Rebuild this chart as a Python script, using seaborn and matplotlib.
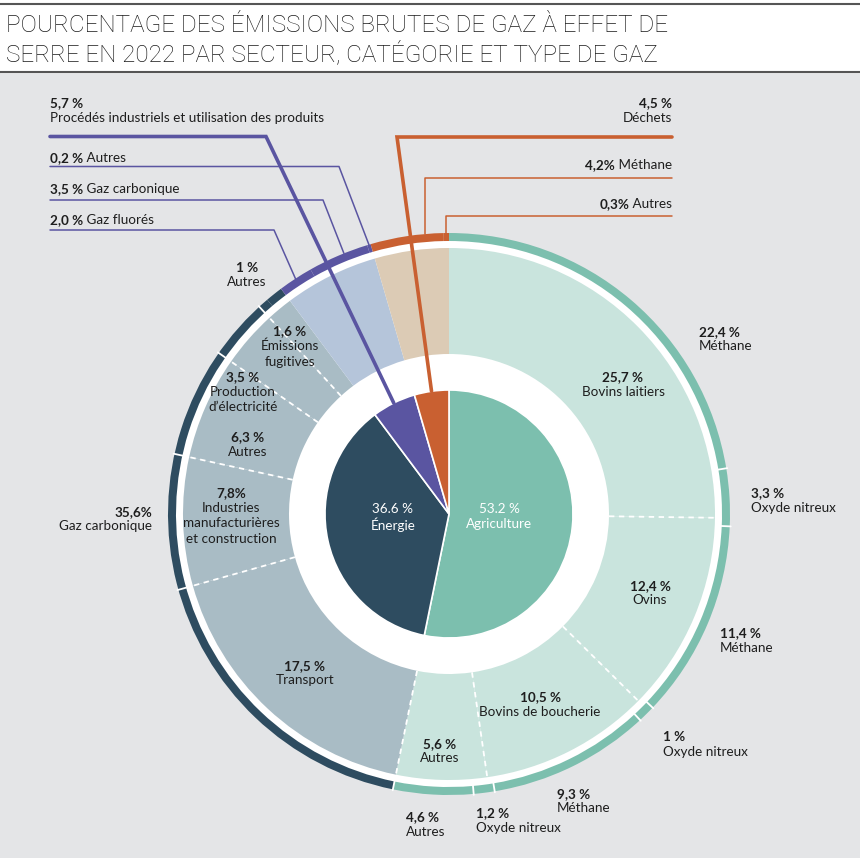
import numpy as np
import matplotlib
matplotlib.use("Agg")
import matplotlib.pyplot as plt
from matplotlib.patches import Circle, Rectangle
import seaborn as sns

# --- données ---------------------------------------------------------------
sector_names = ["Agriculture", "Énergie",
                "Procédés industriels et utilisation des produits", "Déchets"]
sector_pct = [53.2, 36.6, 5.7, 4.5]
sector_lbl = ["53.2 %", "36.6 %", "5,7 %", "4,5 %"]

agri_cats = ["Bovins laitiers", "Ovins", "Bovins de boucherie", "Autres"]
agri_cat_pct = [25.7, 12.4, 10.5, 5.6]
agri_cat_lbl = ["25,7 %", "12,4 %", "10,5 %", "5,6 %"]

energy_cats = ["Transport", "Industries\nmanufacturières\net construction", "Autres",
               "Production\nd’électricité", "Émissions\nfugitives"]
energy_cat_pct = [17.5, 7.8, 6.3, 3.5, 1.6]
energy_cat_lbl = ["17,5 %", "7,8%", "6,3 %", "3,5 %", "1,6 %"]

agri_gas = ["Méthane", "Oxyde nitreux", "Méthane", "Oxyde nitreux",
            "Méthane", "Oxyde nitreux", "Autres"]
agri_gas_pct = [22.4, 3.3, 11.4, 1.0, 9.3, 1.2, 4.6]
agri_gas_lbl = ["22,4 %", "3,3 %", "11,4 %", "1 %", "9,3 %", "1,2 %", "4,6 %"]

energy_gas = ["Gaz carbonique", "Autres"]
energy_gas_pct = [35.6, 1.0]
energy_gas_lbl = ["35,6%", "1 %"]

ippu_gas = ["Gaz fluorés", "Gaz carbonique", "Autres"]
ippu_gas_pct = [2.0, 3.5, 0.2]
ippu_gas_lbl = ["2,0 %", "3,5 %", "0,2 %"]

waste_gas = ["Méthane", "Autres"]
waste_gas_pct = [4.2, 0.3]
waste_gas_lbl = ["4,2%", "0,3%"]

# --- style -----------------------------------------------------------------
sns.set_style("white")
plt.rcParams["font.family"] = ["Lato", "DejaVu Sans"]

inner_colors = sns.color_palette(["#7cbfae", "#2e4c60", "#5a55a1", "#c96031"])
middle_colors = sns.color_palette(["#c9e4dd", "#a9bcc5", "#b5c5da", "#dccbb5"])
BG = "#e4e5e7"
TXT = "#1e1e1e"

W, H = 860, 858
fig = plt.figure(figsize=(W / 100, H / 100), dpi=100, facecolor=BG)
ax = fig.add_axes([0, 0, 1, 1])
ax.set_facecolor(BG)

CX, CY = 449, H - 514
R_IN, R_MID_IN, R_MID, R_OUT_IN, R_OUT = 124, 160, 266, 273, 281


def Y(y):
    return H - y


def polar(frac, r):
    th = np.deg2rad(90 - 360 * frac / 100)
    return CX + r * np.cos(th), CY + r * np.sin(th)


# bandeau du titre
ax.add_patch(Rectangle((0, Y(72)), W, 72, color="white", zorder=0))
ax.plot([0, W], [Y(4), Y(4)], color="#555555", lw=1.5, zorder=1)
ax.plot([0, W], [Y(72), Y(72)], color="#555555", lw=1.5, zorder=1)
for y, line in [(25, "POURCENTAGE DES ÉMISSIONS BRUTES DE GAZ À EFFET DE"),
                (54, "SERRE EN 2022 PAR SECTEUR, CATÉGORIE ET TYPE DE GAZ")]:
    ax.text(6, Y(y), line, fontsize=17.5, fontweight="light", color="#1a1a1a",
            va="center", family=["Roboto", "DejaVu Sans"])

# disque blanc sous les anneaux
ax.add_patch(Circle((CX, CY), R_OUT_IN + 1, color="white", zorder=1))

# anneau intérieur : secteurs
ax.pie(sector_pct, radius=R_IN, center=(CX, CY), startangle=90, counterclock=False,
       colors=inner_colors, wedgeprops=dict(linewidth=1.2, edgecolor="white", zorder=2))

# anneau du milieu : catégories (ramenées au total du secteur)
agri_mid = [v * sector_pct[0] / sum(agri_cat_pct) for v in agri_cat_pct]
energy_mid = [v * sector_pct[1] / sum(energy_cat_pct) for v in energy_cat_pct]
mid_sizes = agri_mid + energy_mid + [sector_pct[2], sector_pct[3]]
mid_cols = ([middle_colors[0]] * len(agri_mid) + [middle_colors[1]] * len(energy_mid)
            + [middle_colors[2], middle_colors[3]])
ax.pie(mid_sizes, radius=R_MID, center=(CX, CY), startangle=90, counterclock=False,
       colors=mid_cols, wedgeprops=dict(width=R_MID - R_MID_IN, linewidth=0, zorder=2))

# anneau extérieur : types de gaz
out_sizes = agri_gas_pct + energy_gas_pct + ippu_gas_pct + waste_gas_pct
out_cols = ([inner_colors[0]] * len(agri_gas_pct) + [inner_colors[1]] * len(energy_gas_pct)
            + [inner_colors[2]] * len(ippu_gas_pct) + [inner_colors[3]] * len(waste_gas_pct))
ax.pie(out_sizes, radius=R_OUT, center=(CX, CY), startangle=90, counterclock=False,
       colors=out_cols, wedgeprops=dict(width=R_OUT - R_OUT_IN, linewidth=0, zorder=2))

# séparateurs pointillés (catégories) et petits traits sur l'anneau extérieur
mid_bounds = list(np.cumsum(agri_mid)[:-1]) + [sector_pct[0]] + \
    list(sector_pct[0] + np.cumsum(energy_mid)[:-1])
for f in mid_bounds:
    (x0, y0), (x1, y1) = polar(f, R_MID_IN), polar(f, R_MID)
    ax.plot([x0, x1], [y0, y1], color="white", lw=1.3, ls=(0, (3, 2.5)), zorder=3)
out_bounds = list(np.cumsum(agri_gas_pct)[:-1]) + mid_bounds[len(agri_mid) - 1:]
for f in out_bounds:
    (x0, y0), (x1, y1) = polar(f, R_OUT_IN - 1), polar(f, R_OUT + 1)
    ax.plot([x0, x1], [y0, y1], color="white", lw=1.3, zorder=3)

# lignes de rappel
start_ippu = sector_pct[0] + sector_pct[1]
start_waste = start_ippu + sector_pct[2]
purple, orange = inner_colors[2], inner_colors[3]

px, py = polar(start_ippu + sector_pct[2] / 2, R_IN)
ax.plot([50, 266, px], [Y(136.5), Y(136.5), py], color=purple, lw=2.6, zorder=5,
        solid_joinstyle="miter")
ox, oy = polar(start_waste + sector_pct[3] / 2, R_IN)
ax.plot([672, 397, ox], [Y(137), Y(137), oy], color=orange, lw=2.6, zorder=5,
        solid_joinstyle="miter")

ippu_cum = np.concatenate([[0], np.cumsum(ippu_gas_pct)])
for i, (yl, xc, a) in enumerate([(230, 274, 0.5), (200, 323, 0.6), (166.5, 339, 0.5)]):
    f = start_ippu + ippu_cum[i] + a * ippu_gas_pct[i]
    x1, y1 = polar(f, R_OUT)
    ax.plot([50, xc, x1], [Y(yl), Y(yl), y1], color=purple, lw=1.1, zorder=5)

waste_cum = np.concatenate([[0], np.cumsum(waste_gas_pct)])
for i, (yl, a) in enumerate([(178, 0.75), (216, 0.5)]):
    f = start_waste + waste_cum[i] + a * waste_gas_pct[i]
    x1, y1 = polar(f, R_OUT)
    ax.plot([672, x1, x1], [Y(yl), Y(yl), y1], color=orange, lw=1.1, zorder=5)


# --- textes ----------------------------------------------------------------
FS = 9.7


def label(x, y, num, name, ha="center", color=TXT, bold=True):
    ax.text(x, Y(y), num, fontsize=FS, fontweight="bold" if bold else "normal",
            color=color, ha=ha, va="center", zorder=6)
    ax.text(x, Y(y + 8.5), name, fontsize=FS, color=color, ha=ha, va="top",
            linespacing=1.38, multialignment=ha, zorder=6)


def inline(x, y, num, name, ha="left"):
    if ha == "left":
        t = ax.text(x, Y(y), num, fontsize=FS, fontweight="bold", color=TXT,
                    ha="left", va="center", zorder=6)
        ax.annotate(" " + name, xy=(1, 0), xycoords=t, fontsize=FS, color=TXT,
                    ha="left", va="bottom", zorder=6)
    else:
        t = ax.text(x, Y(y), " " + name, fontsize=FS, color=TXT,
                    ha="right", va="center", zorder=6)
        ax.annotate(num, xy=(0, 0), xycoords=t, fontsize=FS, fontweight="bold",
                    color=TXT, ha="right", va="bottom", zorder=6)


# secteurs
label(499, 509, sector_lbl[0], sector_names[0], color="white", bold=False)
label(393, 509, sector_lbl[1], sector_names[1], color="white", bold=False)
label(50, 103, sector_lbl[2], sector_names[2], ha="left")
label(672, 103, sector_lbl[3], sector_names[3], ha="right")

# catégories
for (x, y), n, l in zip([(623, 377), (650, 586), (540, 697), (440, 744)], agri_cats, agri_cat_lbl):
    label(x, y, l, n)
for (x, y), n, l in zip([(305, 666), (231, 493), (248, 437), (243, 377), (290, 331)],
                        energy_cats, energy_cat_lbl):
    label(x, y, l, n)

# gaz
agri_pos = [(699, 332), (751, 493), (720, 633), (663, 737), (557, 794), (476, 813), (406, 817)]
for (x, y), n, l in zip(agri_pos, agri_gas, agri_gas_lbl):
    label(x, y, l, n, ha="left")
label(152, 512, energy_gas_lbl[0], energy_gas[0], ha="right")
label(247, 268, energy_gas_lbl[1], energy_gas[1])
for y, n, l in zip([220, 189, 158], ippu_gas, ippu_gas_lbl):
    inline(50, y, l, n)
for y, n, l in zip([165, 204], waste_gas, waste_gas_lbl):
    inline(672, y, l, n, ha="right")

ax.set_xlim(0, W)
ax.set_ylim(0, H)
ax.set_aspect("equal")
ax.axis("off")
fig.savefig("out.png", dpi=100, facecolor=BG)
